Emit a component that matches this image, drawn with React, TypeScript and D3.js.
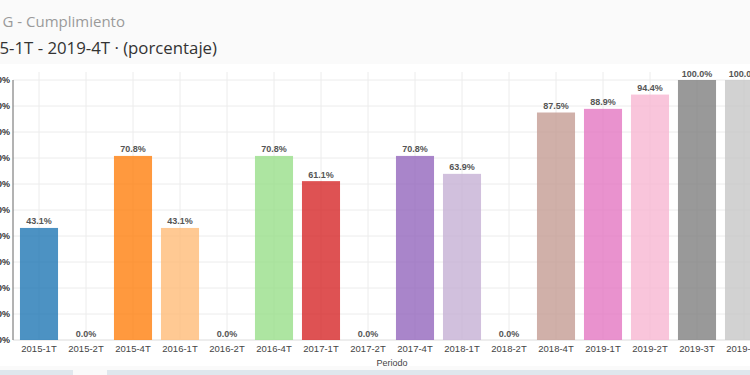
import React from "react";
import * as d3 from "d3";

const categories = [
  "2015-1T", "2015-2T", "2015-4T", "2016-1T", "2016-2T", "2016-4T",
  "2017-1T", "2017-2T", "2017-4T", "2018-1T", "2018-2T", "2018-4T",
  "2019-1T", "2019-2T", "2019-3T", "2019-4T",
];
const values = [43.1, 0, 70.8, 43.1, 0, 70.8, 61.1, 0, 70.8, 63.9, 0, 87.5, 88.9, 94.4, 100, 100];
const yTicks = [0, 10, 20, 30, 40, 50, 60, 70, 80, 90, 100];
const titleText = "G - Cumplimiento";
const subtitleText = "2015-1T - 2019-4T · (porcentaje)";
const xAxisTitle = "Periodo";

const W = 750;
const H = 375;

export default function App() {
  const x = d3
    .scaleBand<string>()
    .domain(categories)
    .range([15.5, 767.5])
    .paddingInner(0.19)
    .paddingOuter(0.095);
  const y = d3.scaleLinear().domain([0, 100]).range([340, 80]);
  const color = d3.scaleOrdinal<string, string>().domain(categories).range([
    "#1f77b4", "#aec7e8", "#ff7f0e", "#ffbb78", "#2ca02c", "#98df8a",
    "#d62728", "#ff9896", "#9467bd", "#c5b0d5", "#8c564b", "#c49c94",
    "#e377c2", "#f7b6d2", "#7f7f7f", "#c7c7c7",
  ]);
  const bw = x.bandwidth();
  const font = "'Open Sans', Arial, sans-serif";
  const labelFont = "Arial, 'Liberation Sans', sans-serif";

  return (
    <svg
      width={W}
      height={H}
      style={{ position: "absolute", left: 0, top: 0, display: "block" }}
    >
      <rect x={0} y={0} width={W} height={H} fill="#fafafa" />
      <rect x={0} y={64} width={W} height={302} fill="#ffffff" />
      <text x={125} y={27} textAnchor="end" fontFamily={font} fontSize={15} fill="#9a9a9a">
        {titleText}
      </text>
      <text x={217} y={54} textAnchor="end" fontFamily={font} fontSize={16.8} fill="#333">
        {subtitleText}
      </text>

      {/* grid */}
      {yTicks.map((t) => (
        <line key={"gy" + t} x1={13} x2={W} y1={y(t)} y2={y(t)} stroke={t === 0 ? "#dcdcdc" : "#ececec"} />
      ))}
      {categories.map((c) => (
        <line
          key={"gx" + c}
          x1={(x(c) as number) + bw / 2}
          x2={(x(c) as number) + bw / 2}
          y1={72}
          y2={340}
          stroke="#ececec"
        />
      ))}

      {/* bars */}
      {categories.map((c, i) => (
        <rect
          key={"b" + c}
          x={x(c) as number}
          y={y(values[i])}
          width={bw}
          height={Math.max(0, y(0) - y(values[i]))}
          fill={color(c)}
          fillOpacity={0.8}
        />
      ))}
      {categories.map((c, i) => (
        <text
          key={"v" + c}
          x={(x(c) as number) + bw / 2}
          y={y(values[i]) - 3.5}
          textAnchor="middle"
          fontFamily={labelFont}
          fontWeight="bold"
          fontSize={9}
          fill="#555"
        >
          {values[i].toFixed(1) + "%"}
        </text>
      ))}

      {/* y axis */}
      <line x1={13} x2={13} y1={80} y2={340} stroke="#666" />
      {yTicks.map((t) => (
        <text
          key={"yt" + t}
          x={10}
          y={y(t) + 3}
          textAnchor="end"
          fontFamily={labelFont}
          fontWeight="bold"
          fontSize={9}
          fill="#333"
        >
          {t + "%"}
        </text>
      ))}

      {/* x axis labels */}
      {categories.map((c) => (
        <text
          key={"xt" + c}
          x={(x(c) as number) + bw / 2}
          y={352}
          textAnchor="middle"
          fontFamily={labelFont}
          fontSize={9.5}
          fill="#444"
        >
          {c}
        </text>
      ))}
      <text
        x={392}
        y={366}
        textAnchor="middle"
        fontFamily={labelFont}
        fontSize={9}
        fill="#444"
      >
        {xAxisTitle}
      </text>

      {/* bottom strip */}
      <rect x={0} y={370} width={73} height={5} fill="#dfe7ed" />
      <rect x={107} y={370} width={W - 107} height={5} fill="#dfe7ed" />
    </svg>
  );
}
